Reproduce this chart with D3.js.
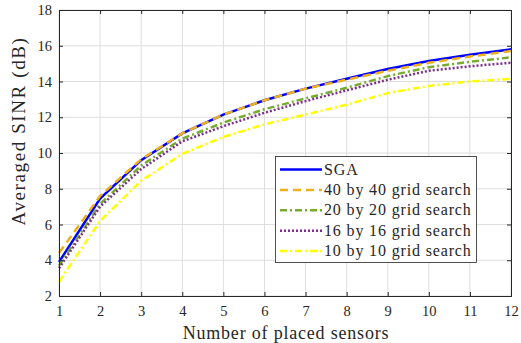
<!DOCTYPE html>
<html><head><meta charset="utf-8">
<script src="https://cdn.jsdelivr.net/npm/d3@7"></script>
<style>body{margin:0;background:#fff}svg{display:block}text{font-family:"Liberation Serif",serif;fill:#262626}</style>
</head><body><svg id="c" width="521" height="343"></svg>
<script>
const sensors = [1,2,3,4,5,6,7,8,9,10,11,12];
const sga    = [3.9, 7.45, 9.6, 11.1, 12.15, 12.95, 13.6, 14.15, 14.7, 15.15, 15.5, 15.8];
const grid40 = [4.4, 7.6, 9.65, 11.1, 12.15, 12.95, 13.6, 14.1, 14.6, 15.05, 15.4, 15.7];
const grid20 = [3.7, 7.15, 9.3, 10.8, 11.7, 12.45, 13.05, 13.65, 14.3, 14.8, 15.1, 15.35];
const grid16 = [3.55, 7.0, 9.1, 10.65, 11.5, 12.25, 12.9, 13.5, 14.1, 14.6, 14.85, 15.05];
const grid10 = [2.8, 6.2, 8.45, 9.95, 10.9, 11.6, 12.15, 12.7, 13.35, 13.75, 14.0, 14.15];
const seriesNames = ["SGA","40 by 40 grid search","20 by 20 grid search","16 by 16 grid search","10 by 10 grid search"];
const xTicks = [1,2,3,4,5,6,7,8,9,10,11,12];
const yTicks = [2,4,6,8,10,12,14,16,18];

(function(){
const styles = [
  {color:"#0000ff", dash:null},
  {color:"#EDB120", dash:"8,5"},
  {color:"#77AC30", dash:"7,3,2,3"},
  {color:"#7E2F8E", dash:"2,2"},
  {color:"#FFFF00", dash:"7,3,2,3"}
];
const allSeries = [sga, grid40, grid20, grid16, grid10];

const svg = d3.select("#c");
const L=59,R=511,T=10,B=296;
const x = d3.scaleLinear().domain([1,12]).range([L,R]);
const y = d3.scaleLinear().domain([2,18]).range([B,T]);

const g = svg.append("g");
g.selectAll(".gx").data(xTicks).join("line")
 .attr("x1",d=>x(d)).attr("x2",d=>x(d)).attr("y1",T).attr("y2",B)
 .attr("stroke","#dedede").attr("stroke-width",1);
g.selectAll(".gy").data(yTicks).join("line")
 .attr("x1",L).attr("x2",R).attr("y1",d=>y(d)).attr("y2",d=>y(d))
 .attr("stroke","#dedede").attr("stroke-width",1);

const line = d3.line().x((d,i)=>x(sensors[i])).y(d=>y(d));
allSeries.forEach((s,k)=>{
  svg.append("path").datum(s).attr("d",line)
   .attr("fill","none").attr("stroke",styles[k].color)
   .attr("stroke-width",2.5).attr("stroke-dasharray",styles[k].dash);
});

const axB = d3.axisBottom(x).tickValues(xTicks).tickSize(-4).tickPadding(10).tickFormat(d3.format("d"));
const axL = d3.axisLeft(y).tickValues(yTicks).tickSize(-4).tickPadding(7).tickFormat(d3.format("d"));
const axT = d3.axisTop(x).tickValues(xTicks).tickSize(-4).tickFormat("");
const axR = d3.axisRight(y).tickValues(yTicks).tickSize(-4).tickFormat("");
[[axB,`translate(0,${B})`],[axL,`translate(${L},0)`],[axT,`translate(0,${T})`],[axR,`translate(${R},0)`]].forEach(([a,t])=>{
  const gg = svg.append("g").attr("transform",t).call(a);
  gg.select(".domain").attr("stroke","#262626").attr("stroke-width",1);
  gg.selectAll(".tick line").attr("stroke","#262626");
  gg.selectAll("text").style("font-size","14.5px").style("font-family","Liberation Serif").attr("fill","#262626");
});

svg.append("text").attr("x",(L+R)/2+1).attr("y",339).attr("text-anchor","middle")
 .style("font-size","18px").style("letter-spacing","0.8px").text("Number of placed sensors");
svg.append("text").attr("transform",`translate(25,${131}) rotate(-90)`).attr("text-anchor","middle")
 .style("font-size","19px").style("letter-spacing","1.6px").text("Averaged SINR (dB)");

const lg = svg.append("g");
lg.append("rect").attr("x",275.5).attr("y",156.5).attr("width",201).attr("height",106)
 .attr("fill","#fff").attr("stroke","#262626").attr("stroke-width",0.8);
seriesNames.forEach((n,k)=>{
  const cy = 169.5 + k*20.4;
  lg.append("line").attr("x1",280).attr("x2",322).attr("y1",cy).attr("y2",cy)
   .attr("stroke",styles[k].color).attr("stroke-width",2.5).attr("stroke-dasharray",styles[k].dash);
  lg.append("text").attr("x",324).attr("y",cy+5).style("font-size","16px").style("letter-spacing","0.85px").text(n);
});
})();
</script></body></html>
